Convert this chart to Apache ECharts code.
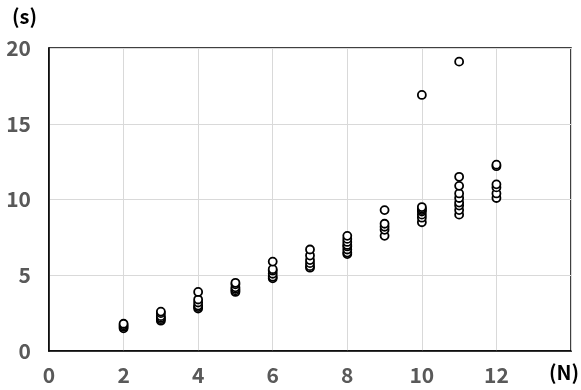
<!DOCTYPE html>
<html>
<head>
<meta charset="utf-8">
<script src="https://cdn.jsdelivr.net/npm/echarts@6/dist/echarts.min.js"></script>
<style>
  html, body { margin: 0; padding: 0; background: #fff; }
  #chart { width: 581px; height: 390px; }
</style>
</head>
<body>
<div id="chart"></div>
<script>
// Solve times (s) measured for each problem size N
const sizes = [2, 3, 4, 5, 6, 7, 8, 9, 10, 11, 12];
const timesN2 = [1.5, 1.6, 1.7, 1.8];
const timesN3 = [2.0, 2.1, 2.2, 2.3, 2.5, 2.6];
const timesN4 = [2.8, 2.9, 3.0, 3.2, 3.4, 3.9];
const timesN5 = [3.9, 4.0, 4.1, 4.2, 4.4, 4.5];
const timesN6 = [4.8, 4.9, 5.1, 5.3, 5.4, 5.9];
const timesN7 = [5.5, 5.6, 5.8, 6.0, 6.3, 6.7];
const timesN8 = [6.4, 6.5, 6.7, 6.9, 7.0, 7.2, 7.4, 7.6];
const timesN9 = [7.6, 8.0, 8.2, 8.4, 9.3];
const timesN10 = [8.5, 8.8, 9.0, 9.2, 9.3, 9.4, 9.5, 16.9];
const timesN11 = [9.0, 9.3, 9.6, 9.8, 10.1, 10.4, 10.9, 11.5, 19.1];
const timesN12 = [10.1, 10.4, 10.8, 11.0, 12.2, 12.3];
const timesBySize = [timesN2, timesN3, timesN4, timesN5, timesN6, timesN7,
                     timesN8, timesN9, timesN10, timesN11, timesN12];

const xTicks = [0, 2, 4, 6, 8, 10, 12];
const yTicks = [0, 5, 10, 15, 20];

const points = [];
sizes.forEach((n, i) => {
  timesBySize[i].forEach(t => points.push([n, t]));
});

const labelFont = '"Noto Sans CJK JP", "Noto Sans", sans-serif';

const chart = echarts.init(document.getElementById('chart'), null, { renderer: 'canvas' });
chart.setOption({
  animation: false,
  backgroundColor: '#fff',
  grid: {
    left: 49, top: 48, right: 10, bottom: 39,
    show: true, borderColor: '#000', borderWidth: 1.5,
    containLabel: false
  },
  xAxis: {
    type: 'value', min: 0, max: 14, interval: 2,
    axisLine: { show: true, onZero: false, lineStyle: { color: '#000', width: 1.5 } },
    axisTick: { show: false },
    splitLine: { show: true, lineStyle: { color: '#d9d9d9', width: 1 } },
    axisLabel: {
      color: '#595959', fontSize: 21, fontWeight: 'bold', fontFamily: labelFont,
      margin: 14, showMaxLabel: false,
      formatter: v => (xTicks.includes(v) ? String(v) : '')
    }
  },
  yAxis: {
    type: 'value', min: 0, max: 20, interval: 5,
    axisLine: { show: true, lineStyle: { color: '#000', width: 1.5 } },
    axisTick: { show: false },
    splitLine: { show: true, lineStyle: { color: '#d9d9d9', width: 1 } },
    axisLabel: {
      color: '#595959', fontSize: 21, fontWeight: 'bold', fontFamily: labelFont,
      margin: 18,
      formatter: v => (yTicks.includes(v) ? String(v) : '')
    }
  },
  graphic: [
    { type: 'text', left: 12, top: 6,
      style: { text: '(s)', fill: '#000', font: 'bold 20px ' + labelFont } },
    { type: 'text', left: 549, top: 362,
      style: { text: '(N)', fill: '#000', font: 'bold 20px ' + labelFont } }
  ],
  series: [{
    type: 'scatter',
    data: points,
    symbol: 'circle',
    symbolSize: 8,
    itemStyle: { color: '#fff', borderColor: '#000', borderWidth: 1.8, opacity: 1 }
  }]
});
</script>
</body>
</html>
